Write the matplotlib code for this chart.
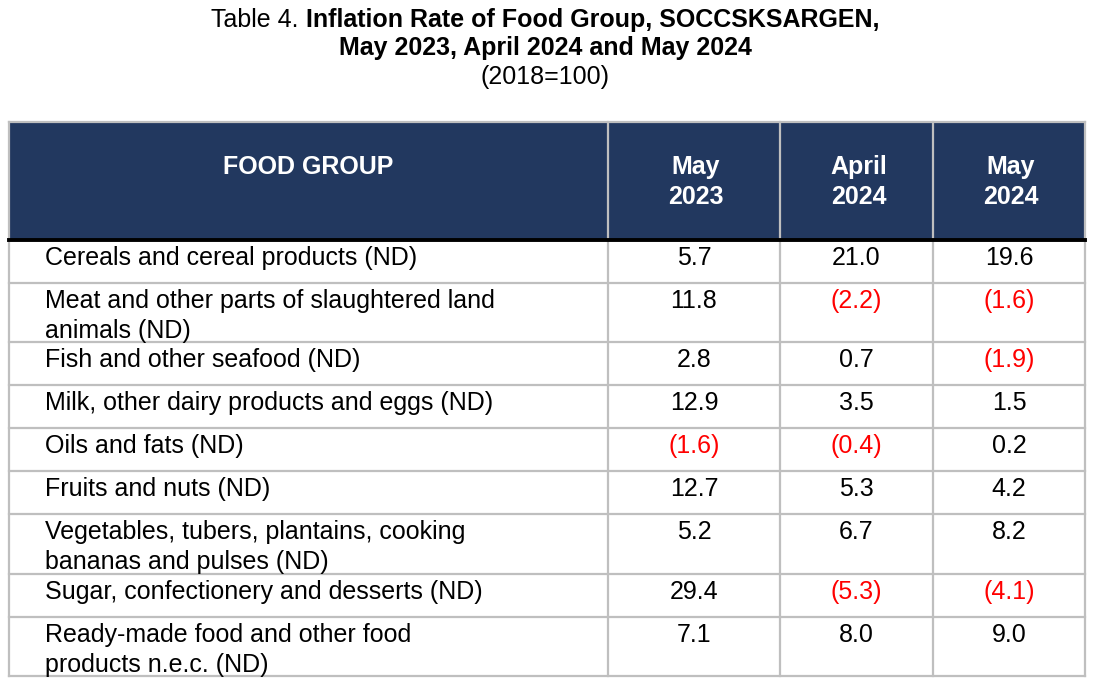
import matplotlib
matplotlib.use("Agg")
import matplotlib.pyplot as plt
from matplotlib.patches import Rectangle

# ---- data ----
food_groups = [
    "Cereals and cereal products (ND)",
    "Meat and other parts of slaughtered land\nanimals (ND)",
    "Fish and other seafood (ND)",
    "Milk, other dairy products and eggs (ND)",
    "Oils and fats (ND)",
    "Fruits and nuts (ND)",
    "Vegetables, tubers, plantains, cooking\nbananas and pulses (ND)",
    "Sugar, confectionery and desserts (ND)",
    "Ready-made food and other food\nproducts n.e.c. (ND)",
]
col_headers = ["May\n2023", "April\n2024", "May\n2024"]
may_2023 = [5.7, 11.8, 2.8, 12.9, -1.6, 12.7, 5.2, 29.4, 7.1]
apr_2024 = [21.0, -2.2, 0.7, 3.5, -0.4, 5.3, 6.7, -5.3, 8.0]
may_2024 = [19.6, -1.6, -1.9, 1.5, 0.2, 4.2, 8.2, -4.1, 9.0]

# ---- layout (pixels) ----
W, H = 1095, 686
FONT = "Liberation Sans"
FS = 18
LS = 1.33
HEADER_BG = "#22385F"
GRID = "#BFBFBF"
RED = "#FF0000"

x_edges = [9, 608, 780, 933, 1085]
y_top, y_head = 122, 240
row_edges = [240, 283, 342, 385, 428, 471, 514, 574, 617, 676]

fig = plt.figure(figsize=(W / 100, H / 100), dpi=100)
ax = fig.add_axes([0, 0, 1, 1])
ax.set_xlim(0, W)
ax.set_ylim(H, 0)
ax.axis("off")

# header background
ax.add_patch(Rectangle((x_edges[0], y_top), x_edges[-1] - x_edges[0], y_head - y_top,
                       facecolor=HEADER_BG, edgecolor="none", zorder=1))

# grid lines
for x in x_edges:
    ax.plot([x, x], [y_top, row_edges[-1]], color=GRID, lw=1.6, zorder=2, solid_capstyle="projecting")
ax.plot([x_edges[0], x_edges[-1]], [y_top, y_top], color=GRID, lw=1.6, zorder=2)
for y in row_edges[1:]:
    ax.plot([x_edges[0], x_edges[-1]], [y, y], color=GRID, lw=1.6, zorder=2)
ax.plot([x_edges[0], x_edges[-1]], [y_head, y_head], color="black", lw=2.8, zorder=3)

# header text
ax.text(308, 167, "FOOD GROUP", ha="center", va="center", color="white",
        fontsize=FS, fontweight="bold", family=FONT, zorder=4)
for i, h in enumerate(col_headers):
    cx = (x_edges[i + 1] + x_edges[i + 2]) / 2 + 2
    ax.text(cx, 182, h, ha="center", va="center", color="white", fontsize=FS,
            fontweight="bold", family=FONT, linespacing=LS - 0.04, zorder=4)

# body
def fmt(v):
    return (f"({abs(v):.1f})", RED) if v < 0 else (f"{v:.1f}", "black")

cols = [may_2023, apr_2024, may_2024]
for r, name in enumerate(food_groups):
    top = row_edges[r]
    ax.text(45, top + 6, name, ha="left", va="top", fontsize=FS, family=FONT,
            linespacing=LS, zorder=4)
    for c, series in enumerate(cols):
        s, col = fmt(series[r])
        cx = (x_edges[c + 1] + x_edges[c + 2]) / 2
        ax.text(cx, top + 6, s, ha="center", va="top", fontsize=FS, family=FONT,
                color=col, zorder=4)

# title
renderer = fig.canvas.get_renderer()
t1 = ax.text(0, 20, "Table 4. ", ha="left", va="center", fontsize=FS, family=FONT)
t2 = ax.text(0, 20, "Inflation Rate of Food Group, SOCCSKSARGEN,", ha="left", va="center",
             fontsize=FS, family=FONT, fontweight="bold")
w1 = t1.get_window_extent(renderer).width
w2 = t2.get_window_extent(renderer).width
x0 = 545 - (w1 + w2) / 2
t1.set_x(x0)
t2.set_x(x0 + w1)
ax.text(545, 48, "May 2023, April 2024 and May 2024", ha="center", va="center",
        fontsize=FS, family=FONT, fontweight="bold")
ax.text(545, 77, "(2018=100)", ha="center", va="center", fontsize=FS, family=FONT)

fig.savefig("out.png", dpi=100)
